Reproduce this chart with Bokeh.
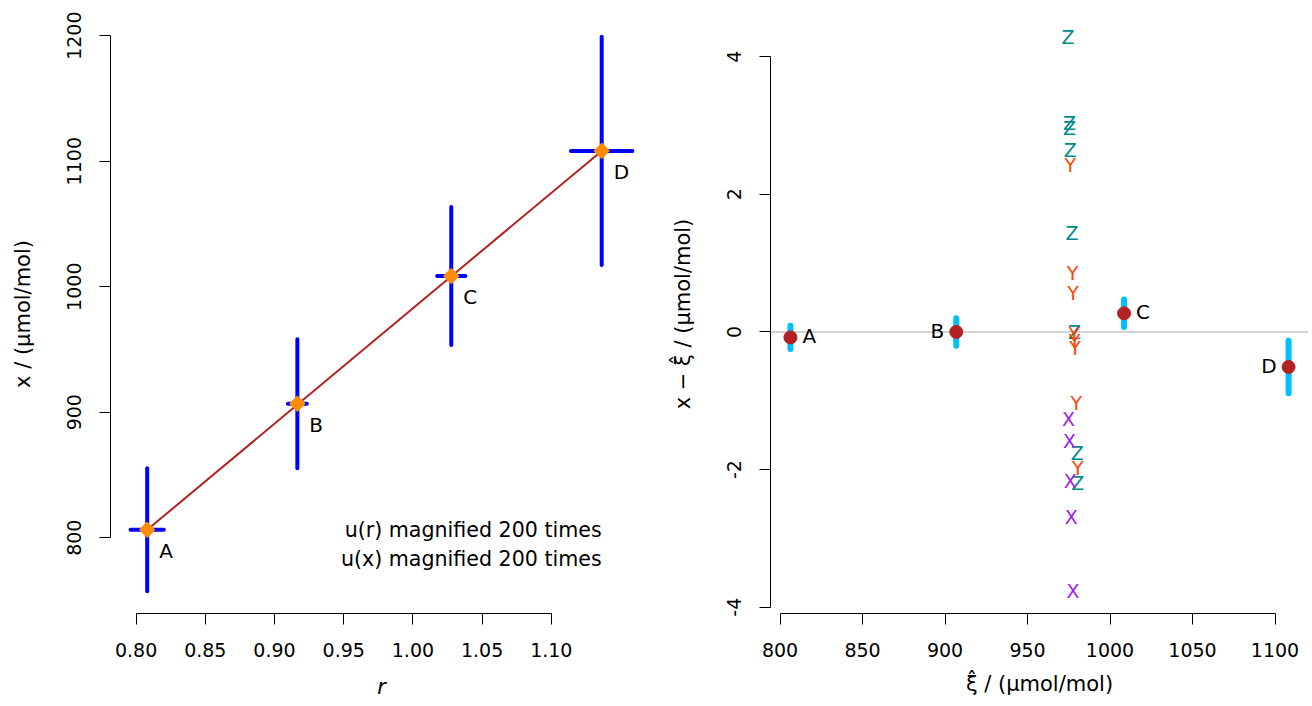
from bokeh.plotting import figure
from bokeh.layouts import row
from bokeh.models import FixedTicker, PrintfTickFormatter, Span, ColumnDataSource, Range1d
from bokeh.core.properties import value
from bokeh.embed import file_html
from bokeh.resources import INLINE

# ---------------- data ----------------
labels = ["A", "B", "C", "D"]
r_val = [0.808, 0.9165, 1.0277, 1.1364]          # ratio r
x_val = [806.3, 906.8, 1008.5, 1108.2]           # x / (umol/mol)
u_r = [6.0e-5, 3.4e-5, 5.1e-5, 1.11e-4]          # standard uncertainty of r
u_x = [0.245, 0.257, 0.275, 0.455]               # standard uncertainty of x
magnify = 200
note_lines = ["u(r) magnified 200 times", "u(x) magnified 200 times"]

residual = [-0.08, 0.0, 0.27, -0.51]             # x - xi_hat
u_res = [0.17, 0.20, 0.20, 0.38]
res_label_side = ["right", "left", "right", "left"]

lab_letter = ["Z", "Z", "Z", "Z", "Z", "Z", "Z", "Z",
              "Y", "Y", "Y", "Y", "Y", "Y", "Y", "Y",
              "X", "X", "X", "X", "X"]
lab_xi = [974.5, 975.5, 975.5, 975.9, 976.9, 978.5, 980.2, 980.5,
          975.9, 977.3, 977.6, 978.3, 978.5, 978.8, 979.6, 980.5,
          974.9, 975.5, 975.9, 976.5, 977.5]
lab_dev = [4.29, 3.04, 2.97, 2.65, 1.43, 0.0, -1.76, -2.19,
           2.43, 0.85, 0.56, -0.03, -0.13, -0.23, -1.04, -1.98,
           -1.27, -1.58, -2.16, -2.69, -3.77]
letter_colors = {"X": "#A020F0", "Y": "#FF4500", "Z": "#008B8B"}

left_xticks = [0.80, 0.85, 0.90, 0.95, 1.00, 1.05, 1.10]
left_yticks = [800, 900, 1000, 1100, 1200]
right_xticks = [800, 850, 900, 950, 1000, 1050, 1100]
right_yticks = [-4, -2, 0, 2, 4]

FONT = "DejaVu Sans"


def rlim(lo, hi):
    d = (hi - lo) * 0.04
    return lo - d, hi + d


def style(p):
    p.outline_line_color = None
    p.grid.visible = False
    p.background_fill_color = "white"
    p.border_fill_color = "white"


def style_axis(ax, ticks, fmt, vertical=False, label_standoff=12):
    ax.ticker = FixedTicker(ticks=ticks)
    ax.formatter = PrintfTickFormatter(format=fmt)
    ax.bounds = (min(ticks), max(ticks))
    ax.major_tick_out = 11
    ax.major_tick_in = 0
    ax.minor_tick_out = 0
    ax.minor_tick_in = 0
    ax.axis_line_color = "black"
    ax.major_tick_line_color = "black"
    ax.major_label_text_font = FONT
    ax.major_label_text_font_size = "19px"
    ax.major_label_text_color = "black"
    ax.major_label_standoff = 18
    ax.axis_label_text_font = FONT
    ax.axis_label_text_font_size = "21px"
    ax.axis_label_text_font_style = "normal"
    ax.axis_label_text_color = "black"
    ax.axis_label_standoff = label_standoff
    if vertical:
        ax.major_label_orientation = "vertical"


# ---------------- left panel ----------------
r_lo = [r - u * magnify for r, u in zip(r_val, u_r)]
r_hi = [r + u * magnify for r, u in zip(r_val, u_r)]
x_lo = [x - u * magnify for x, u in zip(x_val, u_x)]
x_hi = [x + u * magnify for x, u in zip(x_val, u_x)]

src1 = ColumnDataSource(dict(r=r_val, x=x_val, r_lo=r_lo, r_hi=r_hi,
                             x_lo=x_lo, x_hi=x_hi, lab=labels))

p1 = figure(width=656, height=706, output_backend="svg", toolbar_location=None,
            x_range=Range1d(*rlim(min(r_lo), max(r_hi))),
            y_range=Range1d(*rlim(min(x_lo), max(x_hi))),
            min_border_left=110, min_border_right=4, min_border_top=14,
            min_border_bottom=93)
style(p1)

p1.segment(x0="r", y0="x_lo", x1="r", y1="x_hi", source=src1,
           line_color="#0000FF", line_width=4, line_cap="round")
p1.segment(x0="r_lo", y0="x", x1="r_hi", y1="x", source=src1,
           line_color="#0000FF", line_width=4, line_cap="round")
p1.line(x=[r_val[0], r_val[-1]], y=[x_val[0], x_val[-1]],
        line_color="#B22222", line_width=2)
p1.scatter(x="r", y="x", source=src1, marker="square", angle=0.785398,
           size=11, fill_color="#FF8C00", line_color="#FF8C00")
p1.text(x="r", y="x", text="lab", source=src1, x_offset=12, y_offset=21,
        text_font=value(FONT), text_font_size="20px", text_align="left",
        text_baseline="middle", text_color="black")
p1.text(x=[r_val[-1], r_val[-1]], y=[x_val[0], x_val[0]], text=note_lines,
        y_offset=[0, 29], text_font=value(FONT), text_font_size="20.6px",
        text_align="right", text_baseline="middle", text_color="black")

p1.xaxis.axis_label = "r"
style_axis(p1.xaxis[0], left_xticks, "%.2f", label_standoff=15)
p1.xaxis.axis_label_text_font_style = "italic"
p1.yaxis.axis_label = "x / (µmol/mol)"
style_axis(p1.yaxis[0], left_yticks, "%d", vertical=True, label_standoff=30)

# ---------------- right panel ----------------
res_lo = [v - u for v, u in zip(residual, u_res)]
res_hi = [v + u for v, u in zip(residual, u_res)]
src2 = ColumnDataSource(dict(xi=x_val, res=residual, lo=res_lo, hi=res_hi, lab=labels))

p2 = figure(width=656, height=706, output_backend="svg", toolbar_location=None,
            x_range=Range1d(*rlim(min(x_val), max(x_val))),
            y_range=Range1d(*rlim(min(lab_dev), max(lab_dev))),
            min_border_left=114, min_border_right=4, min_border_top=14,
            min_border_bottom=93)
style(p2)

p2.add_layout(Span(location=0, dimension="width", line_color="#D3D3D3",
                   line_width=2, level="underlay"))

src3 = ColumnDataSource(dict(xi=lab_xi, dev=lab_dev, lab=lab_letter,
                             col=[letter_colors[c] for c in lab_letter]))
p2.text(x="xi", y="dev", text="lab", source=src3, text_color="col",
        text_font=value(FONT), text_font_size="19px", text_align="center",
        text_baseline="middle")

p2.segment(x0="xi", y0="lo", x1="xi", y1="hi", source=src2,
           line_color="#00BFFF", line_width=6, line_cap="round")
p2.scatter(x="xi", y="res", source=src2, marker="circle", size=13,
           fill_color="#B22222", line_color="#B22222")

for side in ("right", "left"):
    idx = [i for i, s in enumerate(res_label_side) if s == side]
    p2.text(x=[x_val[i] for i in idx], y=[residual[i] for i in idx],
            text=[labels[i] for i in idx],
            x_offset=12 if side == "right" else -12, y_offset=-1,
            text_font=value(FONT), text_font_size="20px",
            text_align="left" if side == "right" else "right",
            text_baseline="middle", text_color="black")

p2.xaxis.axis_label = "ξ\u0302 / (µmol/mol)"
style_axis(p2.xaxis[0], right_xticks, "%d", label_standoff=12)
p2.yaxis.axis_label = "x \u2212 ξ\u0302 / (µmol/mol)"
style_axis(p2.yaxis[0], right_yticks, "%d", vertical=True, label_standoff=30)

layout = row(p1, p2)
open("out.html", "w").write(file_html(layout, INLINE))
